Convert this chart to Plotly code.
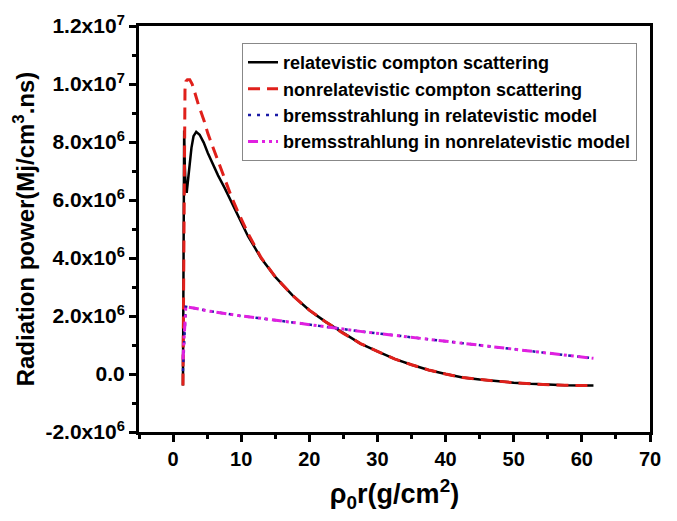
import plotly.graph_objects as go

# ---- data ----
x_rel = [1.45, 1.52, 1.58, 1.63, 1.72, 1.85, 2.0, 2.3, 2.7, 3.0, 3.4, 3.9, 4.5, 5.1, 5.8,
         6.6, 7.6, 8.5, 9.5, 11.0, 12.9, 15.0, 17.5, 20.0, 22.5, 25.0, 27.5, 30.0, 32.5,
         35.0, 37.5, 40.0, 42.5, 45.0, 47.5, 50.0, 52.5, 55.0, 57.5, 60.0, 61.7]
y_rel = [-0.40, 3.0, 7.0, 8.40, 7.2, 6.4, 6.25, 6.9, 7.8, 8.2, 8.35, 8.25, 7.98, 7.62, 7.25,
         6.85, 6.4, 5.95, 5.45, 4.75, 4.0, 3.35, 2.72, 2.2, 1.78, 1.40, 1.05, 0.78, 0.52,
         0.32, 0.14, 0.0, -0.12, -0.19, -0.25, -0.30, -0.34, -0.37, -0.39, -0.40, -0.40]

x_nonrel = [1.45, 1.52, 1.58, 1.65, 1.75, 1.9, 2.1, 2.45, 2.8, 3.2, 3.7, 4.6, 5.1, 5.8,
            6.6, 7.6, 8.5, 9.5, 11.0, 12.9, 15.0, 17.5, 20.0, 22.5, 25.0, 27.5, 30.0, 32.5,
            35.0, 37.5, 40.0, 42.5, 45.0, 47.5, 50.0, 52.5, 55.0, 57.5, 60.0, 61.7]
y_nonrel = [-0.40, 3.0, 6.5, 8.6, 9.8, 10.1, 10.15, 10.15, 10.0, 9.7, 9.3, 8.7, 8.3, 7.85,
            7.37, 6.72, 6.15, 5.6, 4.85, 4.02, 3.35, 2.72, 2.2, 1.78, 1.40, 1.05, 0.78, 0.52,
            0.32, 0.14, 0.0, -0.12, -0.19, -0.25, -0.30, -0.34, -0.37, -0.39, -0.40, -0.40]

x_brem = [1.45, 1.6, 1.75, 1.87, 2.3, 3.2, 5.0, 7.5, 10.0, 12.9, 15.0, 17.5, 20.0, 22.5,
          25.0, 27.5, 30.0, 35.0, 40.0, 45.0, 50.0, 55.0, 61.7]
y_brem_rel = [0.10, 0.9, 1.8, 2.32, 2.30, 2.27, 2.18, 2.08, 2.0, 1.92, 1.86, 1.78, 1.70,
              1.62, 1.55, 1.47, 1.40, 1.26, 1.12, 0.98, 0.85, 0.72, 0.54]
y_brem_nonrel = [0.50, 1.2, 1.9, 2.32, 2.30, 2.27, 2.18, 2.08, 2.0, 1.92, 1.86, 1.78, 1.70,
                 1.62, 1.55, 1.47, 1.40, 1.26, 1.12, 0.98, 0.85, 0.72, 0.54]

names = ["relatevistic compton scattering", "nonrelatevistic compton scattering",
         "bremsstrahlung in relatevistic model", "bremsstrahlung in nonrelatevistic model"]

y_tickvals = [-2e6, 0, 2e6, 4e6, 6e6, 8e6, 1e7, 1.2e7]
y_ticktext = ["-2.0x10<sup>6</sup>", "0.0", "2.0x10<sup>6</sup>", "4.0x10<sup>6</sup>",
              "6.0x10<sup>6</sup>", "8.0x10<sup>6</sup>", "1.0x10<sup>7</sup>", "1.2x10<sup>7</sup>"]
x_tickvals = [0, 10, 20, 30, 40, 50, 60, 70]

SCALE = 1e6
FONT = "Liberation Sans, Arial"

fig = go.Figure()
fig.add_trace(go.Scatter(x=x_rel, y=[v * SCALE for v in y_rel], mode="lines",
                         name=f"<b>{names[0]}</b>",
                         line=dict(color="black", width=2.5)))
fig.add_trace(go.Scatter(x=x_nonrel, y=[v * SCALE for v in y_nonrel], mode="lines",
                         name=f"<b>{names[1]}</b>",
                         line=dict(color="#e0201b", width=3, dash="12px,7px")))
fig.add_trace(go.Scatter(x=x_brem, y=[v * SCALE for v in y_brem_rel], mode="lines",
                         name=f"<b>{names[2]}</b>",
                         line=dict(color="#1a1aa6", width=2.5, dash="3px,6px")))
fig.add_trace(go.Scatter(x=x_brem, y=[v * SCALE for v in y_brem_nonrel], mode="lines",
                         name=f"<b>{names[3]}</b>",
                         line=dict(color="#e020e0", width=3, dash="10px,4px,3px,4px,3px,4px")))

fig.update_layout(
    width=677, height=521,
    margin=dict(l=139, r=27, t=22, b=89),
    paper_bgcolor="white", plot_bgcolor="white",
    font=dict(family=FONT, color="black"),
    showlegend=True,
    legend=dict(x=0.2016, y=0.958, xanchor="left", yanchor="top",
                bgcolor="white", bordercolor="#888888", borderwidth=1,
                font=dict(family=FONT, size=18, color="black"),
                tracegroupgap=0),
    xaxis=dict(range=[-5, 70], tickvals=x_tickvals, ticktext=[f"<b>{v}</b>" for v in x_tickvals],
               tickfont=dict(family=FONT, size=20, color="black"),
               ticks="outside", ticklen=7, tickwidth=2.5, tickcolor="black",
               showline=True, linewidth=3, linecolor="black", mirror=True,
               showgrid=False, zeroline=False,
               minor=dict(tickvals=[-5, 5, 15, 25, 35, 45, 55, 65], ticks="outside",
                          ticklen=4, tickwidth=2.5, tickcolor="black"),
               title=dict(text="<b>ρ<sub>0</sub>r(g/cm<sup>2</sup>)</b>",
                          font=dict(family=FONT, size=27), standoff=16)),
    yaxis=dict(range=[-2e6, 1.2e7], tickvals=y_tickvals,
               ticktext=[f"<b>{t}</b>" for t in y_ticktext],
               tickfont=dict(family=FONT, size=21, color="black"),
               ticks="outside", ticklen=7, tickwidth=2.5, tickcolor="black",
               showline=True, linewidth=3, linecolor="black", mirror=True,
               showgrid=False, zeroline=False,
               minor=dict(tickvals=[-1e6, 1e6, 3e6, 5e6, 7e6, 9e6, 1.1e7], ticks="outside",
                          ticklen=4, tickwidth=2.5, tickcolor="black"),
               title=dict(text="<b>Radiation power(Mj/cm<sup>3</sup>.ns)</b>",
                          font=dict(family=FONT, size=24), standoff=4)),
)

fig.write_html("out.html")
